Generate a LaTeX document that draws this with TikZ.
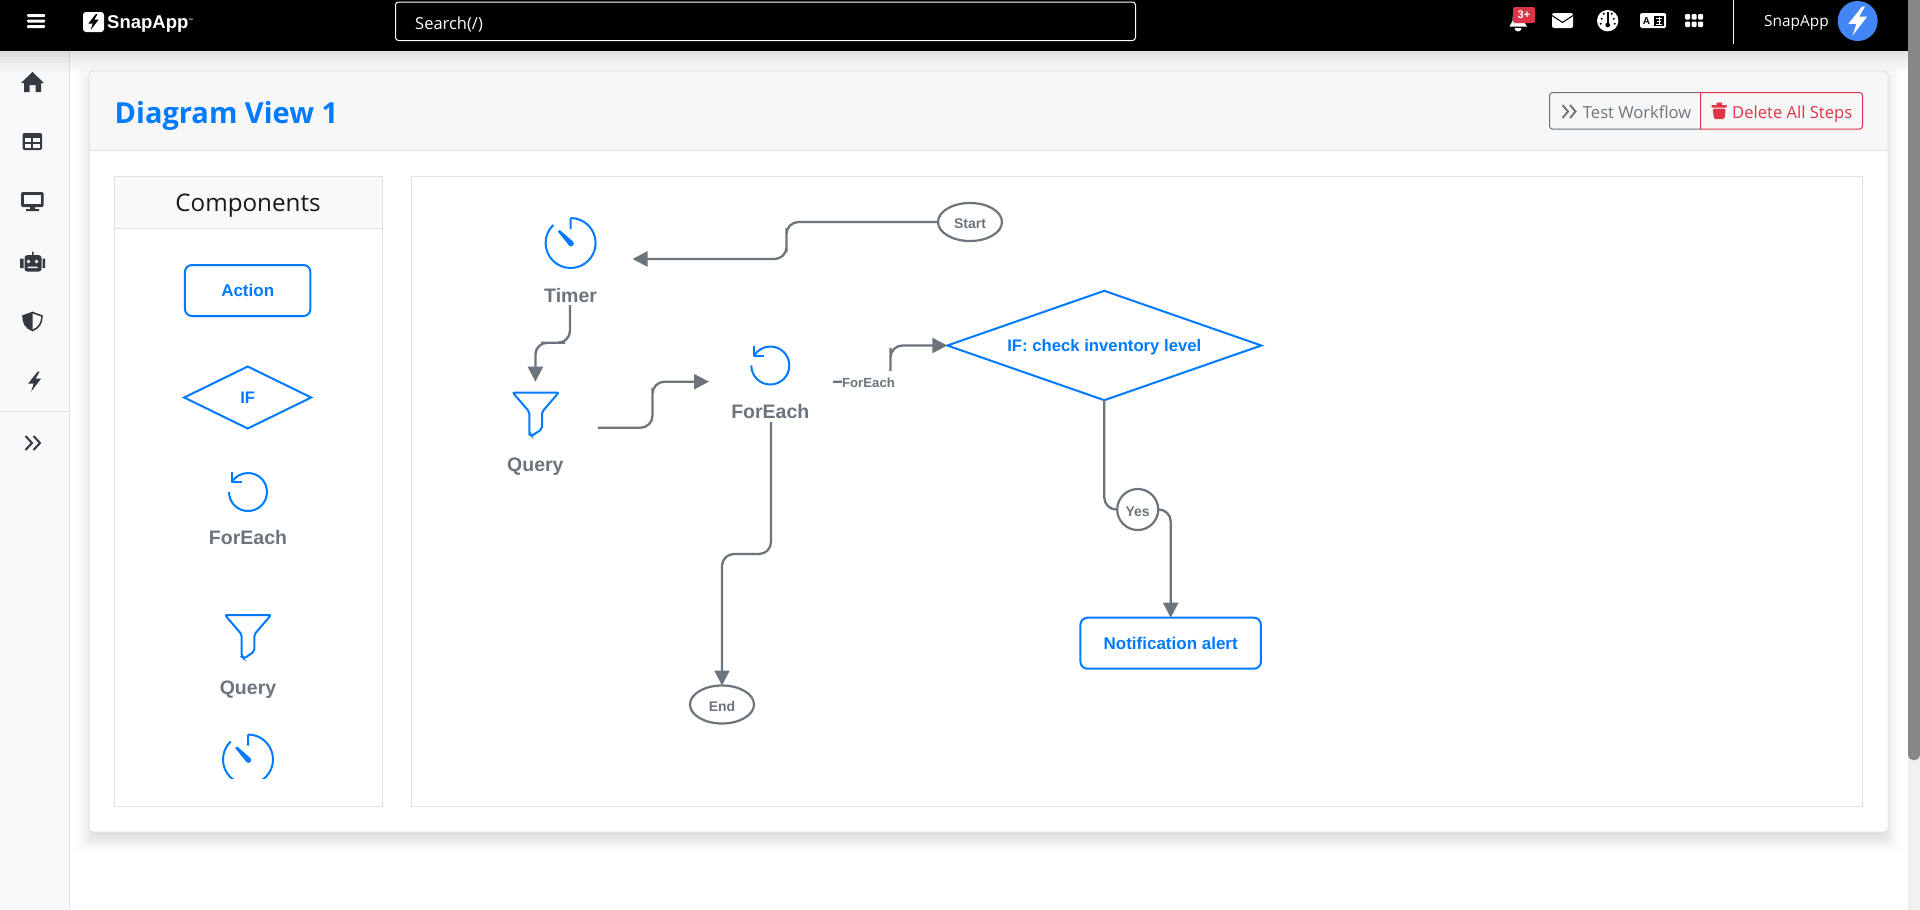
\documentclass[tikz,border=0pt]{standalone}
\usepackage{fontspec}
\setmainfont{Open Sans}
\newfontfamily\diagfont{Liberation Sans}
\usetikzlibrary{shapes.geometric,arrows.meta}
\definecolor{stepblue}{HTML}{007BFF}
\definecolor{stepgray}{HTML}{6C757D}
\definecolor{sidedark}{HTML}{343A40}
\definecolor{sidebg}{HTML}{F8F9FA}
\definecolor{rulegray}{HTML}{DEE2E6}
\definecolor{headbg}{HTML}{F7F7F7}
\definecolor{delred}{HTML}{DC3545}
\definecolor{avatarblue}{HTML}{4285F4}
\newcommand{\fsz}[1]{\fontsize{#1}{#1}\selectfont}
\tikzset{
  blueline/.style={draw=stepblue,line width=2pt},
  actionbox/.style={rectangle,rounded corners=7pt,blueline,outer sep=0pt,inner sep=0pt,
    text=stepblue,font=\diagfont\bfseries\fsz{17}},
  ifbox/.style={diamond,blueline,outer sep=0pt,inner sep=0pt,
    text=stepblue,font=\diagfont\bfseries\fsz{16.7}},
  stepbox/.style={rectangle,outer sep=0pt,inner sep=0pt,minimum width=125pt,minimum height=92pt},
  steptext/.style={text=stepgray,font=\diagfont\bfseries\fsz{19.5}},
  endpoint/.style={draw=stepgray,line width=2.2pt,outer sep=0pt,inner sep=0pt,text height=13pt,text depth=0pt,
    text=stepgray,font=\diagfont\bfseries\fsz{14}},
  edgelabel/.style={fill=white,inner sep=0pt,minimum height=24pt,
    text=stepgray,font=\diagfont\bfseries\fsz{13.2}},
  flow/.style={draw=stepgray,line width=2.3pt,rounded corners=12pt},
  flowtip/.style={flow,-{Triangle[length=15pt,width=15pt]}},
  topicon/.style={fill=white,draw=none},
  sideicon/.style={fill=sidedark,draw=none},
  pics/timericon/.style={code={
    \draw[blueline] (0,-25) -- (0,-14) (0,-25) arc[start angle=90,end angle=-226,radius=25pt];
    \fill[stepblue] (-12.8,-11.5) -- (-10.8,-13) -- (2.2,-1.6) arc[start angle=50,end angle=-130,radius=2.8pt] -- cycle;
  }},
  pics/loopicon/.style={code={
    \draw[blueline] (-19,0) arc[start angle=180,end angle=510,radius=19pt];
    \draw[blueline,line join=round] (-16.5,-19.7) -- (-16.5,-9.7) -- (-6.2,-9.7);
  }},
  pics/funnelicon/.style={code={
    \draw[blueline,rounded corners=2pt] (-23,-21.5) -- (23,-21.5) -- (6.3,-2) -- (6.3,15) -- (-4,22) -- (-6.3,20) -- (-6.3,-2) -- cycle;
  }},
  pics/boltshape/.style={code={
    \fill (3,-10) -- (-6.5,2) -- (-1,2) -- (-3.5,10) -- (6.5,-3) -- (1,-3) -- (5,-10) -- cycle;
  }}
}
\begin{document}
\begin{tikzpicture}[x=1pt,y=-1pt]
  \useasboundingbox (0,0) rectangle (1920,910);
  \fill[white] (0,0) rectangle (1920,910);

  % page chrome
  \foreach \s in {-8,...,14}
    \fill[black,opacity=.005,rounded corners=6pt] ({89-\s},{79-\s}) rectangle ({1888+\s},{840+\s});
  \foreach \s in {-8,...,6}
    \fill[black,opacity=.004,rounded corners=6pt] ({89-\s},{79-\s}) rectangle ({1888+\s},{840+\s});
  \fill[sidebg] (0,51) rectangle (69.5,910);
  \draw[rulegray,line width=1pt] (69.5,51) -- (69.5,910);
  \draw[rulegray,line width=1pt] (0,411.5) -- (69.5,411.5);
  \foreach \h in {3,6,...,21}
    \fill[black,opacity=.014] (0,51) rectangle (1908,{51+\h});
  \fill[black] (0,0) rectangle (1908,51);
  \fill[black!6] (1908,0) rectangle (1920,910);
  \fill[black!47,rounded corners=5pt] (1908,-10) rectangle (1920,760);

  % top bar, left
  \foreach \y in {15.5,21,26.5}
    \fill[white,rounded corners=1pt] (27,{\y-1.5}) rectangle (45,{\y+1.5});
  \fill[white,rounded corners=3pt] (83,12) rectangle (104,32);
  \pic[black,scale=.8] at (93.5,22) {boltshape};
  \node[text=white,font=\diagfont\bfseries\fsz{18.5},anchor=west,inner sep=0pt] (brand) at (107,24) {SnapApp\raisebox{6pt}{\fsz{5}™}};
  \draw[white,line width=1pt,rounded corners=3pt] (395.5,2) rectangle (1135.5,40.5);
  \node[text=white,font=\fsz{16.5},anchor=west,inner sep=0pt] (search) at (415,25) {Search(/)};

  % top bar, right
  \fill[topicon] (1518,9) .. controls (1512,10) and (1513,17) .. (1512.5,21) -- (1509.5,26.5) -- (1527,26.5) -- (1523.5,21) .. controls (1523,17) and (1524,10) .. (1518,9) -- cycle;
  \fill[topicon] (1514.5,28) -- (1521.5,28) arc[start angle=0,end angle=-180,radius=3.5pt] -- cycle;
  \node[fill=delred,rounded corners=2pt,minimum width=22pt,minimum height=16pt,inner sep=0pt,text=white,font=\diagfont\bfseries\fsz{11}] (badge) at (1524,15) {3+};
  \fill[topicon,rounded corners=2pt] (1552,13) rectangle (1573,28);
  \draw[black,line width=1pt] (1552,15.5) -- (1562.5,22.5) -- (1573,15.5);
  \fill[topicon] (1607.7,20.7) circle[radius=10.7pt];
  \fill[black] (1606.5,12) -- (1609,12) -- (1609,24) -- (1606.5,24) -- cycle;
  \foreach \dx/\dy in {-6/-2,6/-2,-4/-7,4/-7,-7/3,7/3}
    \fill[black] ({1607.7+\dx},{20.7+\dy}) circle[radius=1.1pt];
  \fill[black] (1607.7,25) circle[radius=2.4pt];
  \fill[topicon,rounded corners=1.5pt] (1640,13) rectangle (1666,28);
  \node[text=black,font=\diagfont\bfseries\fsz{10},inner sep=0pt] (langa) at (1646.5,20.7) {A};
  \fill[black] (1654,15.5) rectangle (1664,26);
  \draw[white,line width=1pt] (1656,18) -- (1662,18) (1657,21) -- (1661,21) (1656,24) -- (1662,24) (1659,16.5) -- (1659,25);
  \foreach \gx in {1685,1691.5,1698}
    \foreach \gy in {14,21.5}
      \fill[topicon,rounded corners=1.2pt] (\gx,\gy) rectangle ({\gx+5.2},{\gy+5.5});
  \draw[white,line width=1pt] (1733.5,0) -- (1733.5,44);
  \node[text=white,font=\fsz{15.4},anchor=west,inner sep=0pt] (user) at (1764,23) {SnapApp};
  \fill[avatarblue] (1857.7,21) circle[radius=20pt];
  \pic[white,scale=1.45] at (1857.7,21) {boltshape};

  % sidebar icons
  \fill[sideicon] (32.5,72) -- (44,83) -- (41,83) -- (41,92) -- (35.5,92) -- (35.5,85) -- (29.5,85) -- (29.5,92) -- (24,92) -- (24,83) -- (21,83) -- cycle;
  \fill[sideicon,rounded corners=2pt] (22.5,133) rectangle (42,150);
  \foreach \cx/\cy in {25/137.5,33.2/137.5,25/143.5,33.2/143.5}
    \fill[sidebg] (\cx,\cy) rectangle ({\cx+6.3},{\cy+4.5});
  \fill[sideicon,rounded corners=2pt] (21,192) rectangle (43.7,207);
  \fill[sidebg] (24,195) rectangle (40.7,204);
  \fill[sideicon] (30,207) rectangle (35,209.5) (26,209) rectangle (39,211);
  \fill[sideicon,rounded corners=3pt] (24.5,255) rectangle (41.5,271.7);
  \fill[sideicon] (32,251.7) rectangle (33.5,256) (20,258.5) rectangle (23.5,268) (42.5,258.5) rectangle (45,268);
  \fill[sidebg] (28.5,261.5) circle[radius=1.9pt] (36.5,261.5) circle[radius=1.9pt] (27.5,266.5) rectangle (37.5,268);
  \draw[sidedark,line width=1.6pt,fill=sidebg] (32.5,312.5) -- (42,316) .. controls (42,323) and (39,328) .. (32.5,330.5) .. controls (26,328) and (23,323) .. (23,316) -- cycle;
  \fill[sideicon] (32.5,312.5) -- (23,316) .. controls (23,323) and (26,328) .. (32.5,330.5) -- cycle;
  \pic[sidedark] at (34.7,381.5) {boltshape};
  \draw[sidedark,line width=2pt] (25.5,436) -- (32,443) -- (25.5,450) (33.5,436) -- (40,443) -- (33.5,450);

  % card
  \fill[white,rounded corners=4pt] (89,71) rectangle (1888,832);
  \fill[headbg,rounded corners=4pt] (89,71) rectangle (1888,100);
  \fill[headbg] (89,80) rectangle (1888,150.5);
  \draw[black!11,line width=1pt,rounded corners=4pt] (89,71) rectangle (1888,832);
  \draw[black!11,line width=1pt] (89,150.5) -- (1888,150.5);
  \node[text=stepblue,font=\bfseries\fsz{29},anchor=west,inner sep=0pt] (title) at (114.5,116) {Diagram View 1};

  % buttons
  \draw[stepgray,line width=1pt] (1700.5,92.5) -- (1552.5,92.5) arc[start angle=90,end angle=180,radius=3pt] -- (1549.5,126) arc[start angle=180,end angle=270,radius=3pt] -- (1700.5,129);
  \draw[stepgray,line width=1.9pt] (1562.5,105) -- (1568,111.5) -- (1562.5,118) (1570,105) -- (1575.5,111.5) -- (1570,118);
  \node[text=stepgray,font=\fsz{16.6},anchor=west,inner sep=0pt] (testlabel) at (1582.7,112) {Test Workflow};
  \draw[delred,line width=1pt] (1700.5,92.5) -- (1859.5,92.5) arc[start angle=90,end angle=0,radius=3pt] -- (1862.5,126) arc[start angle=0,end angle=-90,radius=3pt] -- (1700.5,129) -- cycle;
  \fill[delred] (1711.7,105) rectangle (1726.7,107.5) (1716.5,102.5) rectangle (1722,105);
  \fill[delred,rounded corners=1.5pt] (1712.7,108.5) -- (1725.7,108.5) -- (1724.5,119) -- (1714,119) -- cycle;
  \node[text=delred,font=\fsz{16.6},anchor=west,inner sep=0pt] (dellabel) at (1732,114) {Delete All Steps};

  % palette
  \fill[sidebg] (114.5,176.5) rectangle (382.5,228);
  \draw[rulegray,line width=1pt] (114.5,176.5) rectangle (382.5,806);
  \draw[rulegray,line width=1pt] (114.5,228) -- (382.5,228);
  \node[text=black!90,font=\fsz{24.2},inner sep=0pt] (comptitle) at (248,206) {Components};
  \node[actionbox,minimum width=125.5pt,minimum height=51pt] (palaction) at (247.7,290.5) {Action};
  \node[ifbox,aspect=2.03,minimum width=127pt,minimum height=62pt] (palif) at (247.7,397.5) {IF};
  \pic at (248,492) {loopicon};
  \node[steptext] (palloop) at (248,538) {ForEach};
  \pic at (248,636.5) {funnelicon};
  \node[steptext] (palquery) at (248,690) {Query};
  \begin{scope}
    \clip (200,725) rectangle (300,778);
    \pic at (248,759.5) {timericon};
  \end{scope}

  % canvas
  \draw[rulegray,line width=1pt] (411.5,176.5) rectangle (1862.5,806.5);

  % diagram nodes
  \node[endpoint,ellipse,minimum width=64pt,minimum height=38pt] (start) at (970,222) {Start};
  \node[stepbox] (timer) at (570,259) {};
  \pic at (570.6,243) {timericon};
  \node[steptext] (timerlabel) at (570.6,296) {Timer};
  \node[stepbox] (query) at (535.4,427.7) {};
  \pic at (535.7,414) {funnelicon};
  \node[steptext] (querylabel) at (535.4,467) {Query};
  \node[stepbox,minimum width=124pt,minimum height=81pt] (foreach) at (771,381.7) {};
  \pic at (770.3,365.5) {loopicon};
  \node[steptext] (foreachlabel) at (770.3,411.7) {ForEach};
  \node[ifbox,aspect=2.87,minimum width=314pt,minimum height=109.4pt,text height=12.5pt,text depth=0pt] (ifcheck) at (1104.3,345.5) {IF: check inventory level};
  \node[endpoint,circle,minimum size=41pt] (yes) at (1137.7,509.5) {Yes};
  \node[actionbox,minimum width=180.5pt,minimum height=51pt] (notify) at (1170.7,643.2) {Notification alert};
  \node[endpoint,ellipse,minimum width=64pt,minimum height=38pt] (stop) at (722,704.5) {End};

  \coordinate (bendstart) at (786.5,240);
  \coordinate (bendtimer) at (553,342.7);
  \coordinate (bendquery) at (652.5,400);
  \coordinate (bendloop) at (890.5,360);
  \coordinate (bendend) at (745,554);

  % connectors
  \draw[flowtip] (start.west) -| (bendstart) |- (timer.east);
  \draw[flowtip] (timer.south) |- (bendtimer) -| (query.north);
  \draw[flowtip] (query.east) -| (bendquery) |- (foreach.west);
  \draw[flowtip] (foreach.east) -| (bendloop) |- (ifcheck.west);
  \draw[flowtip] (foreach.south) |- (bendend) -| (stop.north);
  \draw[flow] (ifcheck.south) |- (yes.west);
  \draw[flowtip] (yes.east) -| (notify.north);
  \node[edgelabel] (looplabel) at (868.5,383) {ForEach};
\end{tikzpicture}
\end{document}
